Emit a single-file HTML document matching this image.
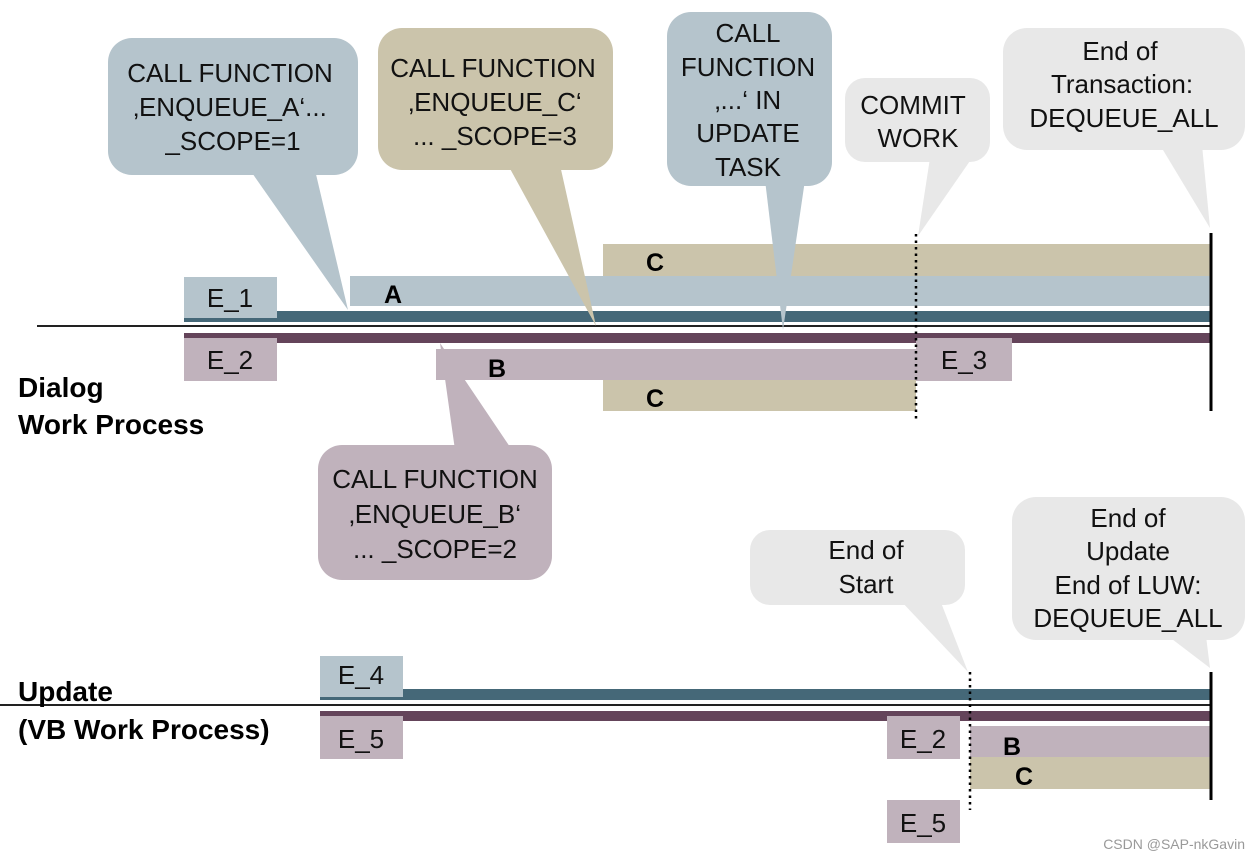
<!DOCTYPE html>
<html><head><meta charset="utf-8"><style>
html,body{margin:0;padding:0;background:#fff;}
svg{display:block;}
svg text{font-family:"Liberation Sans","DejaVu Sans",sans-serif;}
.t{font-size:26px;fill:#111;text-anchor:middle;}
.b{font-size:25px;font-weight:bold;fill:#000;}
.lb{font-size:28px;font-weight:bold;fill:#000;}
</style></head><body>
<svg width="1257" height="858" viewBox="0 0 1257 858" xmlns="http://www.w3.org/2000/svg" font-family="Liberation Sans, sans-serif">
<rect x="603" y="244" width="607" height="32" fill="#cbc4ab"/>
<rect x="350" y="276" width="860" height="30" fill="#b5c4cc"/>
<rect x="184" y="311" width="1026" height="11" fill="#456878"/>
<rect x="184" y="277" width="93" height="41" fill="#b5c4cc"/>
<line x1="37" y1="326" x2="1210" y2="326" stroke="#222" stroke-width="2"/>
<rect x="184" y="333" width="1026" height="10" fill="#64445a"/>
<rect x="184" y="338" width="93" height="43" fill="#c0b2bc"/>
<rect x="436" y="349" width="480" height="31" fill="#c0b2bc"/>
<rect x="603" y="380" width="313" height="31" fill="#cbc4ab"/>
<rect x="916" y="338" width="96" height="43" fill="#c0b2bc"/>
<line x1="916" y1="234" x2="916" y2="422" stroke="#000" stroke-width="2.5" stroke-dasharray="2.5,4"/>
<line x1="1211" y1="233" x2="1211" y2="411" stroke="#000" stroke-width="3"/>
<text class="t" x="230" y="307">E_1</text>
<text class="t" x="230" y="369">E_2</text>
<text class="t" x="964" y="369">E_3</text>
<text class="b" x="384" y="303">A</text>
<text class="b" x="488" y="377">B</text>
<text class="b" x="646" y="271">C</text>
<text class="b" x="646" y="407">C</text>
<text class="lb" x="18" y="397">Dialog</text>
<text class="lb" x="18" y="434">Work Process</text>

<path d="M250,170 L315,170 L348,310 Z" fill="#b5c4cc"/>
<rect x="108" y="38" width="250" height="137" rx="24" fill="#b5c4cc"/>
<text class="t" x="230" y="82">CALL FUNCTION</text>
<text class="t" x="230" y="116">‚ENQUEUE_A‘...</text>
<text class="t" x="233" y="150">_SCOPE=1</text>

<path d="M508,165 L560,165 L596,326 Z" fill="#cbc4ab"/>
<rect x="378" y="28" width="235" height="142" rx="24" fill="#cbc4ab"/>
<text class="t" x="493" y="77">CALL FUNCTION</text>
<text class="t" x="495" y="111">‚ENQUEUE_C‘</text>
<text class="t" x="495" y="145">... _SCOPE=3</text>

<path d="M765,180 L805,180 L783,330 Z" fill="#b5c4cc"/>
<rect x="667" y="12" width="165" height="174" rx="24" fill="#b5c4cc"/>
<text class="t" x="748" y="42">CALL</text>
<text class="t" x="748" y="76">FUNCTION</text>
<text class="t" x="748" y="109">‚...‘ IN</text>
<text class="t" x="748" y="142">UPDATE</text>
<text class="t" x="748" y="176">TASK</text>

<path d="M930,158 L972,158 L918,236 Z" fill="#e8e8e8"/>
<rect x="845" y="78" width="145" height="84" rx="20" fill="#e8e8e8"/>
<text class="t" x="913" y="114">COMMIT</text>
<text class="t" x="918" y="147">WORK</text>

<path d="M1160,145 L1202,145 L1210,228 Z" fill="#e8e8e8"/>
<rect x="1003" y="28" width="242" height="122" rx="24" fill="#e8e8e8"/>
<text class="t" x="1120" y="60">End of</text>
<text class="t" x="1122" y="93">Transaction:</text>
<text class="t" x="1124" y="127">DEQUEUE_ALL</text>

<path d="M440,343 L455,450 L512,450 Z" fill="#c0b2bc"/>
<rect x="318" y="445" width="234" height="135" rx="24" fill="#c0b2bc"/>
<text class="t" x="435" y="488">CALL FUNCTION</text>
<text class="t" x="435" y="523">‚ENQUEUE_B‘</text>
<text class="t" x="435" y="558">... _SCOPE=2</text>

<path d="M900,600 L940,600 L968,672 Z" fill="#e8e8e8"/>
<rect x="750" y="530" width="215" height="75" rx="20" fill="#e8e8e8"/>
<text class="t" x="866" y="559">End of</text>
<text class="t" x="866" y="593">Start</text>

<path d="M1168,636 L1206,636 L1210,668 Z" fill="#e8e8e8"/>
<rect x="1012" y="497" width="233" height="143" rx="24" fill="#e8e8e8"/>
<text class="t" x="1128" y="527">End of</text>
<text class="t" x="1128" y="560">Update</text>
<text class="t" x="1128" y="594">End of LUW:</text>
<text class="t" x="1128" y="627">DEQUEUE_ALL</text>

<rect x="320" y="689" width="890" height="11" fill="#456878"/>
<rect x="320" y="656" width="83" height="41" fill="#b5c4cc"/>
<line x1="0" y1="705" x2="1210" y2="705" stroke="#222" stroke-width="2"/>
<rect x="320" y="711" width="890" height="10" fill="#64445a"/>
<rect x="320" y="716" width="83" height="43" fill="#c0b2bc"/>
<rect x="887" y="716" width="73" height="43" fill="#c0b2bc"/>
<rect x="970" y="726" width="240" height="31" fill="#c0b2bc"/>
<rect x="970" y="757" width="240" height="32" fill="#cbc4ab"/>
<rect x="887" y="800" width="73" height="43" fill="#c0b2bc"/>
<line x1="970" y1="672" x2="970" y2="810" stroke="#000" stroke-width="2.5" stroke-dasharray="2.5,4"/>
<line x1="1211" y1="672" x2="1211" y2="800" stroke="#000" stroke-width="3"/>
<text class="t" x="361" y="684">E_4</text>
<text class="t" x="361" y="748">E_5</text>
<text class="t" x="923" y="748">E_2</text>
<text class="t" x="923" y="832">E_5</text>
<text class="b" x="1003" y="755">B</text>
<text class="b" x="1015" y="785">C</text>
<text class="lb" x="18" y="701">Update</text>
<text class="lb" x="18" y="739">(VB Work Process)</text>
<text x="1245" y="849" style="font-size:14px;fill:#999;text-anchor:end">CSDN @SAP-nkGavin</text>
</svg>
</body></html>
